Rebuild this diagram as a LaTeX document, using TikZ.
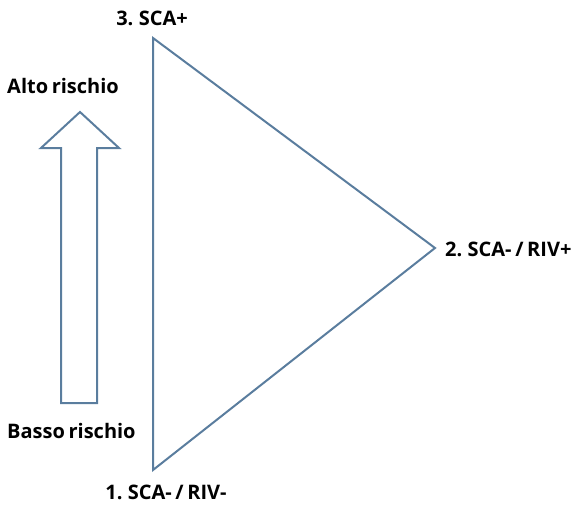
\documentclass[tikz,border=0pt]{standalone}
\usepackage{fontspec}
\setmainfont{Open Sans}[WordSpace=0.7]
\usetikzlibrary{positioning}

\definecolor{edgeblue}{RGB}{90,125,158}

\begin{document}
\begin{tikzpicture}[x=1pt,y=-1pt,
			tri/.style={
				draw=edgeblue,
				line width=2pt,
				line join=miter
			},
			lbl/.style={
				inner sep=0pt,
				font=\fontsize{20}{24}\selectfont\bfseries
			},
			node distance=10pt
			]
			\useasboundingbox (0,0) rectangle (577,506);
			% vertices of the triangle
			\coordinate (top) at (153,38);
			\coordinate (right) at (435,248);
			\coordinate (bottom) at (153,470);
			\draw[tri] (top) -- (right) -- (bottom) -- cycle;

			\node[lbl,above=12pt of top,xshift=-1pt] (sca) {3. SCA+};
			\node[lbl,right=10pt of right,yshift=-1pt] (riv) {2. SCA- / RIV+};
			\node[lbl,below=15pt of bottom,xshift=13pt] (neg) {1. SCA- / RIV-};

			% block arrow on the left
			\coordinate (tip) at (80,112);
			\coordinate (hl) at (41,148);
			\coordinate (hr) at (119,148);
			\coordinate (sl) at (61,148);
			\coordinate (sr) at (97,148);
			\coordinate (bl) at (61,403);
			\coordinate (br) at (97,403);
			\draw[tri] (tip) -- (hr) -- (sr) -- (br) -- (bl) -- (sl) -- (hl) -- cycle;

			\node[lbl,anchor=west] (alto) at (7,86) {Alto rischio};
			\node[lbl,anchor=west] (basso) at (7,431) {Basso rischio};
        \end{tikzpicture}
\end{document}
